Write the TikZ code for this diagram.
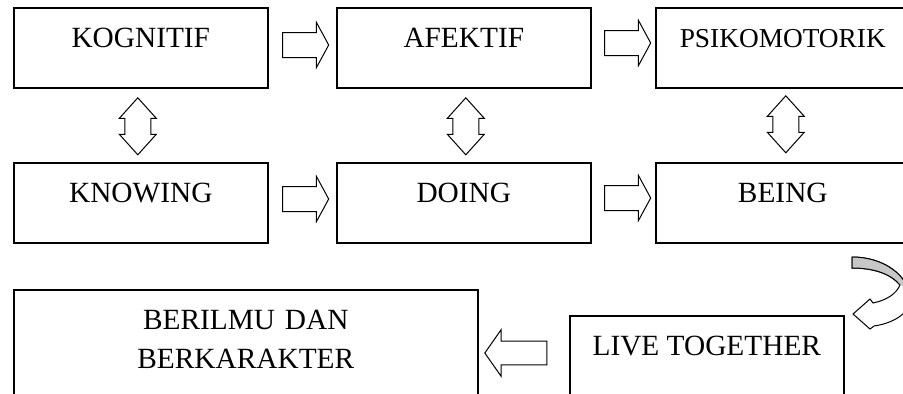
\documentclass[tikz,border=0pt]{standalone}
\usepackage{fontspec}
\setmainfont{Liberation Serif}
\usetikzlibrary{calc,shapes.arrows}
\tikzset{
    box/.style = {
        draw,
        line width=1.2pt,
        anchor=north west,
        inner xsep=0pt,
        inner ysep=15pt,
        text height=15pt,
        text depth=15pt,
        minimum width=190.5pt,
        font=\fontsize{22}{29.25}\selectfont,
        },
    right arrow/.style = {
        single arrow,
        draw,
        line width=0.75pt,
        inner xsep=0pt,
        inner ysep=9pt,
        minimum height=34.5pt,
        single arrow head extend=7.5pt,
        single arrow tip angle=123,
        },
    left arrow/.style = {
        single arrow,
        draw,
        line width=0.75pt,
        inner xsep=0pt,
        inner ysep=8.6pt,
        minimum height=46.5pt,
        single arrow head extend=8.6pt,
        single arrow tip angle=110,
        rotate=180,
        },
    both arrow/.style = {
        double arrow,
        draw,
        line width=0.75pt,
        inner xsep=0pt,
        inner ysep=9.4pt,
        minimum height=42.75pt,
        double arrow head extend=4.1pt,
        double arrow tip angle=84,
        rotate=90,
        },
    curved back/.style = {
        fill=black!22,
    },
}

\begin{document}
\begin{tikzpicture}[x=0.75pt, y=-0.75pt]
            \useasboundingbox (0,0) rectangle (903,393);
            \clip (0,0) rectangle (903,393);

            \node[box] (kog) at (13,7) {KOGNITIF};
            \node[box] (afe) at (336,7) {AFEKTIF};
            \node[box, font=\fontsize{20.5}{27}\selectfont] (psi) at (655,7) {PSIKOMOTORIK};
            \node[box] (know) at (13,162) {KNOWING};
            \node[box] (doing) at (336,162) {DOING};
            \node[box] (being) at (655,162) {BEING};
            \node[box, minimum width=348pt, text width=348pt, align=center, text depth=50pt] (ilmu) at (13,289) {BERILMU DAN\\BERKARAKTER};
            \node[box, minimum width=205.5pt, text depth=40pt] (live) at (569,315) {LIVE TOGETHER};

            \node[right arrow] (a1) at ($(kog.north east)!0.5!(afe.north west)+(0,38)$) {};
            \node[right arrow] (a2) at ($(afe.north east)!0.5!(psi.north west)+(1,36)$) {};
            \node[right arrow] (a3) at ($(know.north east)!0.5!(doing.north west)+(0,37)$) {};
            \node[right arrow] (a4) at ($(doing.north east)!0.5!(being.north west)+(1,36)$) {};
            \node[both arrow] (b1) at ($(kog.south)!0.5!(know.north)+(-3,1)$) {};
            \node[both arrow] (b2) at ($(afe.south)!0.5!(doing.north)+(2,1)$) {};
            \node[both arrow] (b3) at ($(psi.south)!0.5!(being.north)+(3,-1)$) {};
            \node[left arrow] (c1) at ($(live.north west)+(-49,38)$) {};

            % curved arrow from BEING down to LIVE TOGETHER
            \path[draw, line width=0.75pt, fill=white] (852,257) .. controls (884,257) and (910,276) .. (910,300)
                .. controls (910,312) and (895,323) .. (874,326) -- (870,329) -- (853,314) -- (870,299) -- (873,303)
                .. controls (887,300) and (896,294) .. (900,285)
                .. controls (890,273) and (872,268) .. (852,268) -- cycle;
            \begin{scope}
                \clip (852,257) .. controls (884,257) and (910,276) .. (910,300) -- (900,285)
                    .. controls (890,273) and (872,268) .. (852,268) -- cycle;
                \fill[curved back] (840,245) -- (920,245) -- (920,292) -- (900,285) -- (840,285) -- cycle;
            \end{scope}
            \draw[line width=0.75pt] (852,257) .. controls (884,257) and (910,276) .. (910,300);
            \draw[line width=0.75pt] (900,285) .. controls (890,273) and (872,268) .. (852,268) -- (852,257);
\end{tikzpicture}
\end{document}
